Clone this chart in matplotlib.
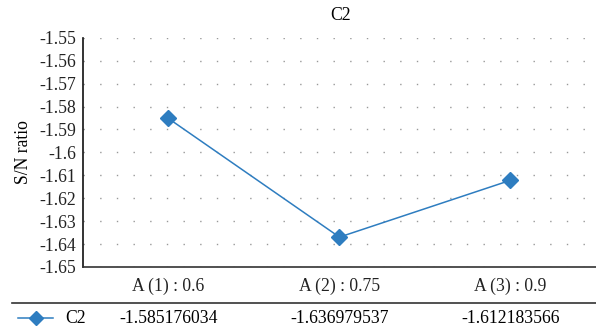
import matplotlib
matplotlib.use('Agg')
from matplotlib import pyplot as plt
from matplotlib.lines import Line2D
import matplotlib.transforms as mtransforms

plt.rcParams['font.family'] = ['Liberation Serif', 'DejaVu Serif']

# Data
categories = ['A (1) : 0.6', 'A (2) : 0.75', 'A (3) : 0.9']
c2_values = [-1.585176034, -1.636979537, -1.612183566]
c2_labels = ['-1.585176034', '-1.636979537', '-1.612183566']
y_ticks = [-1.55, -1.56, -1.57, -1.58, -1.59, -1.6, -1.61, -1.62, -1.63, -1.64, -1.65]
y_tick_labels = ['-1.55', '-1.56', '-1.57', '-1.58', '-1.59', '-1.6', '-1.61', '-1.62', '-1.63', '-1.64', '-1.65']

blue = '#2e7dc0'
fs = 12.7

fig = plt.figure(figsize=(5.96, 3.32), dpi=100)
ax = fig.add_axes([0.139, 0.196, 0.861, 0.69])

x = list(range(len(categories)))
ax.plot(x, c2_values, color=blue, linewidth=1.1, marker='D', markersize=8,
        markerfacecolor=blue, markeredgecolor=blue, clip_on=False, zorder=3)

ax.set_xlim(-0.5, len(categories) - 0.5)
ax.set_ylim(-1.65, -1.55)
ax.set_yticks(y_ticks)
ax.set_yticklabels(y_tick_labels)
ax.set_xticks(x)
ax.set_xticklabels(categories)
ax.tick_params(axis='both', length=0, labelsize=fs, colors='#222222')
ax.tick_params(axis='x', pad=8)
ax.tick_params(axis='y', pad=5)

# Dotted horizontal gridlines
ax.yaxis.grid(True, linestyle=(0, (1, 11)), color='#999999', linewidth=1.0)
ax.set_axisbelow(True)

for s in ['top', 'right']:
    ax.spines[s].set_visible(False)
ax.spines['left'].set_color('#111111')
ax.spines['left'].set_linewidth(1.2)
ax.spines['bottom'].set_color('#333333')
ax.spines['bottom'].set_linewidth(1.2)

ax.set_ylabel('S/N ratio', fontsize=fs, labelpad=5)
fig.text(0.572, 0.952, 'C2', ha='center', va='center', fontsize=fs)

# Data table below the chart
fig.add_artist(Line2D([0.02, 1.0], [0.087, 0.087], color='#333333', linewidth=1.2))
fig.add_artist(Line2D([0.03, 0.089], [0.042, 0.042], color=blue, linewidth=1.1))
fig.add_artist(Line2D([0.06], [0.042], color=blue, marker='D', markersize=7.5,
                      markerfacecolor=blue, markeredgecolor=blue))
fig.text(0.109, 0.042, 'C2', ha='left', va='center', fontsize=fs)
trans = mtransforms.blended_transform_factory(ax.transData, fig.transFigure)
for xi, lab in zip(x, c2_labels):
    ax.text(xi, 0.042, lab, transform=trans, ha='center', va='center', fontsize=fs)

fig.savefig('out.png', dpi=100)
